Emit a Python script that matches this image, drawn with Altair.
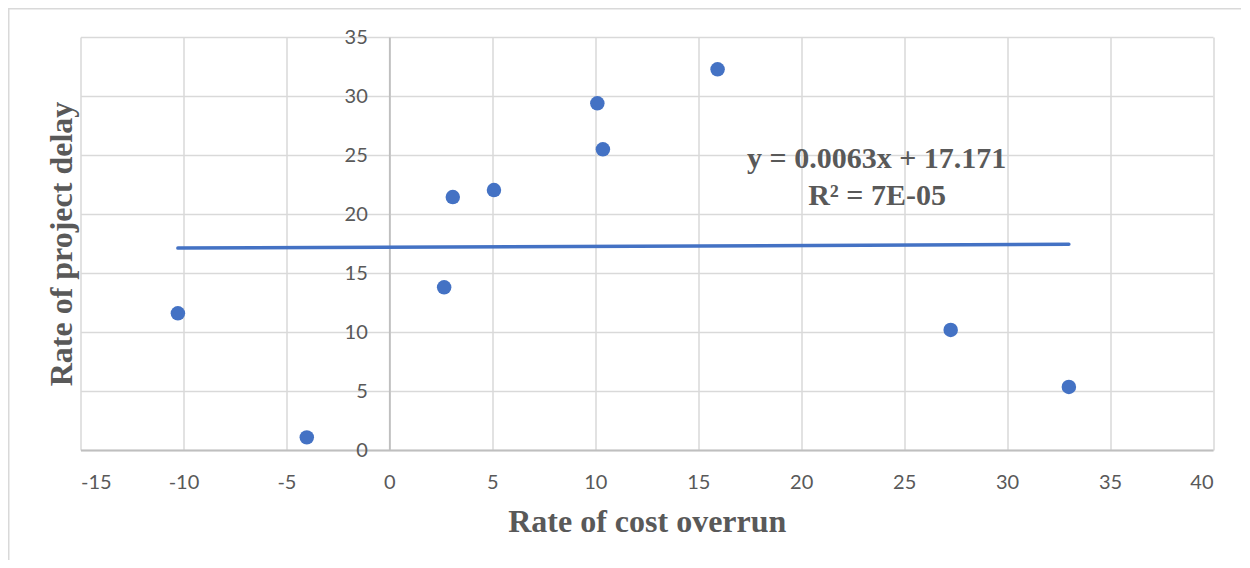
import altair as alt
import pandas as pd

cost_overrun = [-10.27, -4.01, 2.66, 3.08, 5.08, 10.10, 10.37, 15.94, 27.26, 33.00]
project_delay = [11.58, 1.07, 13.79, 21.44, 22.03, 29.38, 25.48, 32.26, 10.17, 5.34]
x_ticks = [-15, -10, -5, 0, 5, 10, 15, 20, 25, 30, 35, 40]
y_ticks = [0, 5, 10, 15, 20, 25, 30, 35]
equation_line = "y = 0.0063x + 17.171"
r2_line = "R\u00b2 = 7E-05"

df = pd.DataFrame({"x": cost_overrun, "y": project_delay})

W, H = 1132.5, 413
BLUE = "#4472C4"
GREY_TXT = "#595959"
GRID = "#d9d9d9"
AXIS = "#bfbfbf"
SERIF = "Liberation Serif"
SANS = "Lato"

x_scale = alt.Scale(domain=[-15, 40], nice=False, zero=False)
y_scale = alt.Scale(domain=[0, 35], nice=False)

x_enc = alt.X(
    "x:Q",
    scale=x_scale,
    axis=alt.Axis(
        values=x_ticks,
        labelExpr="'' + datum.value",
        title="Rate of cost overrun",
        titleFont=SERIF,
        titleFontSize=32,
        titleFontWeight="bold",
        titleColor=GREY_TXT,
        titleBaseline="alphabetic",
        titleY=81.7,
        labelFont=SANS,
        labelFontSize=20,
        labelColor=GREY_TXT,
        labelPadding=22,
        ticks=False,
        grid=True,
        gridColor=GRID,
        gridWidth=1.5,
        domainColor=AXIS,
        domainWidth=1.8,
    ),
)

y_enc = alt.Y(
    "y:Q",
    scale=y_scale,
    axis=alt.Axis(
        values=y_ticks,
        labelExpr="'' + datum.value",
        offset=-308.8,
        title="Rate of project delay",
        titleFont=SERIF,
        titleFontSize=32,
        titleFontWeight="bold",
        titleColor=GREY_TXT,
        titleAngle=270,
        titleAlign="center",
        titleBaseline="alphabetic",
        titleX=-318.3,
        titleY=H / 2,
        labelFont=SANS,
        labelFontSize=20,
        labelColor=GREY_TXT,
        labelPadding=22,
        ticks=False,
        grid=True,
        gridColor=GRID,
        gridWidth=1.5,
        domainColor=AXIS,
        domainWidth=1.8,
    ),
)

base = alt.Chart(df)

points = base.mark_circle(size=210, color=BLUE, opacity=1).encode(x=x_enc, y=y_enc)

trend = (
    base.transform_regression("x", "y", method="linear")
    .mark_line(color=BLUE, strokeWidth=3.5, strokeCap="round")
    .encode(x=alt.X("x:Q", scale=x_scale), y=alt.Y("y:Q", scale=y_scale))
)

border_df = pd.DataFrame({"k": [0]})
border = alt.Chart(border_df).mark_rect(
    filled=False, stroke=GRID, strokeWidth=1.5
).encode(
    x=alt.value(-71.75),
    x2=alt.value(W + 200),
    y=alt.value(-28.25),
    y2=alt.value(H + 300),
)

eq_df = pd.DataFrame({"t": [equation_line]})
r2_df = pd.DataFrame({"t": [r2_line]})
eq_text = alt.Chart(eq_df).mark_text(
    font=SERIF, fontSize=30, fontWeight="bold", color=GREY_TXT,
    align="center", baseline="alphabetic",
).encode(x=alt.value(796.2), y=alt.value(131), text="t:N")
r2_text = alt.Chart(r2_df).mark_text(
    font=SERIF, fontSize=30, fontWeight="bold", color=GREY_TXT,
    align="center", baseline="alphabetic",
).encode(x=alt.value(796.5), y=alt.value(168), text="t:N")

chart = (
    alt.layer(border, trend, points, eq_text, r2_text)
    .properties(
        width=W,
        height=H,
        autosize=alt.AutoSizeParams(type="none"),
        padding={"left": 72.5, "top": 29, "right": 28, "bottom": 110},
        background="white",
    )
    .configure_view(stroke=None)
)

chart.save("out.html", embed_options={"renderer": "svg", "actions": False})
